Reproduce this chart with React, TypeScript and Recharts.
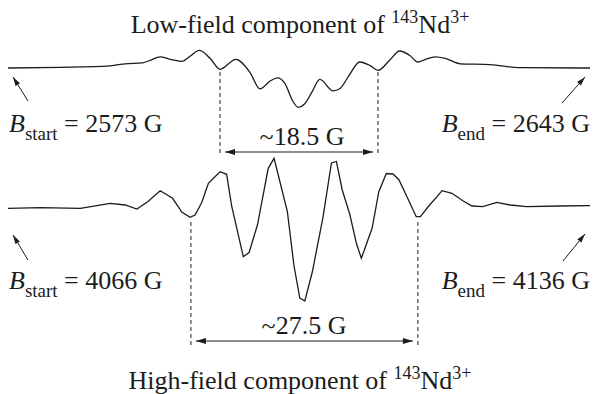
import React from "react";
import { ComposedChart, Line, XAxis, YAxis, ReferenceLine } from "recharts";

// field sweep limits (G)
const lowStart = 2573;
const lowEnd = 2643;
const highStart = 4066;
const highEnd = 4136;

// low-field component, field (G) and derivative signal (arb. units)
const lowFieldB = [
  2573.0, 2579.3, 2585.3, 2587.1, 2589.2, 2590.1, 2591.3, 2592.5, 2593.9, 2594.9,
  2596.0, 2597.3, 2598.5, 2600.4, 2602.1, 2603.3, 2604.5, 2605.4, 2606.3, 2607.2,
  2607.9, 2608.7, 2609.6, 2610.5, 2612.1, 2612.9, 2614.1, 2615.3, 2616.5, 2617.5,
  2618.9, 2620.1, 2621.3, 2622.3, 2623.2, 2624.4, 2625.6, 2627.4, 2631.0, 2634.6,
  2643.0,
];
const lowFieldSignal = [
  0, 0.7, 2.2, 4.2, 5.2, 7.7, 11.2, 8.7, 6.7, 11.7,
  17.7, 9.7, -1.3, 8.7, -4.3, -20.8, -13.3, -9.8, -15.3, -32.3,
  -39.3, -35.8, -23.3, -11.3, -22.8, -20.8, -6.3, 6, 2.7, -2.3,
  7.7, 17, 12.7, 6, 8.7, 11.2, 9.7, 4.2, 3.4, 0.4,
  0,
];

// high-field component
const highFieldB = [
  4066.0, 4069.9, 4074.7, 4078.3, 4080.1, 4081.5, 4082.8, 4084.3, 4085.8, 4086.9,
  4087.9, 4088.5, 4089.3, 4090.1, 4091.5, 4092.3, 4092.9, 4094.3, 4095.0, 4096.0,
  4097.3, 4098.0, 4099.6, 4100.4, 4101.1, 4101.7, 4102.6, 4103.9, 4104.9, 4105.5,
  4106.2, 4107.1, 4107.9, 4108.5, 4109.8, 4110.6, 4111.5, 4112.3, 4113.0, 4114.0,
  4115.1, 4115.6, 4116.6, 4117.6, 4118.2, 4119.4, 4120.7, 4121.8, 4123.1, 4124.8,
  4126.4, 4128.4, 4132.4, 4136.0,
];
const highFieldSignal = [
  -0.3, 0.3, -0.3, 4.7, 3, -1, 6.3, 17.3, 9.7, -4,
  -9.3, -7, 5.5, 24.7, 36.3, 33.7, 2, -48.7, -44.5, -17,
  39.7, 49.7, -3.7, -58, -90, -93, -64, -8.7, 45, 46.5,
  18, -6, -35.3, -50.3, -20, 16.3, 34.5, 34, 28.5, 11,
  -8.7, -8.7, 2, 11.3, 17.3, 14.7, 7.3, 2, 1.3, 5.7,
  3, 1.3, 2, 2.3,
];

// outer hyperfine lines marked by dashed guides
const lowMarks = [2598.5, 2617.5];
const highMarks = [4088.0, 4115.3];
const lowSpanLabel = "~18.5 G";
const highSpanLabel = "~27.5 G";

const W = 597;
const H = 394;
const LOW_BASE = 326;
const HIGH_BASE = 186;

const ink = "#1c1c1c";
const serif = "'Times New Roman', 'Liberation Serif', 'DejaVu Serif', serif";

const lowData = lowFieldB.map((b, i) => ({ B: b, v: LOW_BASE + lowFieldSignal[i] }));
const highData = highFieldB.map((b, i) => ({ B: b, v: HIGH_BASE + highFieldSignal[i] }));

function head(x1: number, y1: number, x2: number, y2: number, len = 10, half = 3) {
  const a = Math.atan2(y2 - y1, x2 - x1);
  const bx = x2 - len * Math.cos(a);
  const by = y2 - len * Math.sin(a);
  const px = -Math.sin(a) * half;
  const py = Math.cos(a) * half;
  return `${x2},${y2} ${bx + px},${by + py} ${bx - px},${by - py}`;
}

function SpanArrow(props: any) {
  const { x1, y1, x2 } = props;
  const l = Math.min(x1, x2) + 5;
  const r = Math.max(x1, x2) - 5;
  return (
    <g>
      <line x1={l} y1={y1} x2={r} y2={y1} stroke={ink} strokeWidth={1.1} />
      <polygon points={head(r, y1, l, y1)} fill={ink} />
      <polygon points={head(l, y1, r, y1)} fill={ink} />
    </g>
  );
}

function Pointer({ x1, y1, x2, y2 }: { x1: number; y1: number; x2: number; y2: number }) {
  return (
    <g>
      <line x1={x1} y1={y1} x2={x2} y2={y2} stroke={ink} strokeWidth={1} />
      <polygon points={head(x1, y1, x2, y2, 9, 2.6)} fill={ink} />
    </g>
  );
}

function FieldLabel({ x, y, sub, value, anchor }: { x: number; y: number; sub: string; value: number; anchor: "start" | "end" }) {
  return (
    <text x={x} y={y} textAnchor={anchor} fontSize={26} fill={ink} style={{ fontFamily: serif }}>
      <tspan fontStyle="italic">B</tspan>
      <tspan dy={8} fontSize={19}>{sub}</tspan>
      <tspan dy={-8}>{` = ${value} G`}</tspan>
    </text>
  );
}

function Title({ y, text }: { y: number; text: string }) {
  return (
    <text x={300} y={y} textAnchor="middle" fontSize={26} fill={ink} style={{ fontFamily: serif }}>
      {text}
      <tspan dy={-10} fontSize={18}>143</tspan>
      <tspan dy={10}>Nd</tspan>
      <tspan dy={-10} fontSize={18}>3+</tspan>
    </text>
  );
}

export default function App() {
  return (
    <div style={{ position: "fixed", left: 0, top: 0, width: W, height: H, background: "#fff" }}>
      <ComposedChart width={W} height={H} margin={{ top: 0, right: 7, left: 8, bottom: 0 }}>
        <XAxis xAxisId="low" dataKey="B" type="number" domain={[lowStart, lowEnd]} hide allowDataOverflow />
        <XAxis xAxisId="high" dataKey="B" type="number" domain={[highStart, highEnd]} hide allowDataOverflow />
        <YAxis type="number" domain={[0, H]} hide allowDataOverflow />
        {lowMarks.map(m => (
          <ReferenceLine key={`l${m}`} xAxisId="low" segment={[{ x: m, y: 322 }, { x: m, y: 239 }]}
            stroke={ink} strokeWidth={1} strokeDasharray="4 3" />
        ))}
        {highMarks.map(m => (
          <ReferenceLine key={`h${m}`} xAxisId="high" segment={[{ x: m, y: 172 }, { x: m, y: 48 }]}
            stroke={ink} strokeWidth={1} strokeDasharray="4 3" />
        ))}
        <ReferenceLine xAxisId="low" segment={[{ x: lowMarks[0], y: 242 }, { x: lowMarks[1], y: 242 }]} shape={SpanArrow} />
        <ReferenceLine xAxisId="high" segment={[{ x: highMarks[0], y: 53 }, { x: highMarks[1], y: 53 }]} shape={SpanArrow} />
        <Line xAxisId="low" data={lowData} dataKey="v" type="monotone" stroke={ink} strokeWidth={1.3} dot={false} isAnimationActive={false} />
        <Line xAxisId="high" data={highData} dataKey="v" type="linear" stroke={ink} strokeWidth={1.3} dot={false} isAnimationActive={false} />
      </ComposedChart>
      <svg width={W} height={H} style={{ position: "absolute", left: 0, top: 0, pointerEvents: "none" }}>
        <Title y={33} text="Low-field component of " />
        <Title y={389} text="High-field component of " />
        <Pointer x1={28} y1={101} x2={13} y2={77} />
        <Pointer x1={562} y1={103} x2={585} y2={77} />
        <Pointer x1={28} y1={260} x2={13} y2={235} />
        <Pointer x1={563} y1={261} x2={585} y2={234} />
        <FieldLabel x={9} y={132} sub="start" value={lowStart} anchor="start" />
        <FieldLabel x={590} y={132} sub="end" value={lowEnd} anchor="end" />
        <FieldLabel x={9} y={289} sub="start" value={highStart} anchor="start" />
        <FieldLabel x={590} y={289} sub="end" value={highEnd} anchor="end" />
        <text x={302} y={145} textAnchor="middle" fontSize={26} fill={ink} style={{ fontFamily: serif }}>{lowSpanLabel}</text>
        <text x={304} y={334} textAnchor="middle" fontSize={26} fill={ink} style={{ fontFamily: serif }}>{highSpanLabel}</text>
      </svg>
    </div>
  );
}
